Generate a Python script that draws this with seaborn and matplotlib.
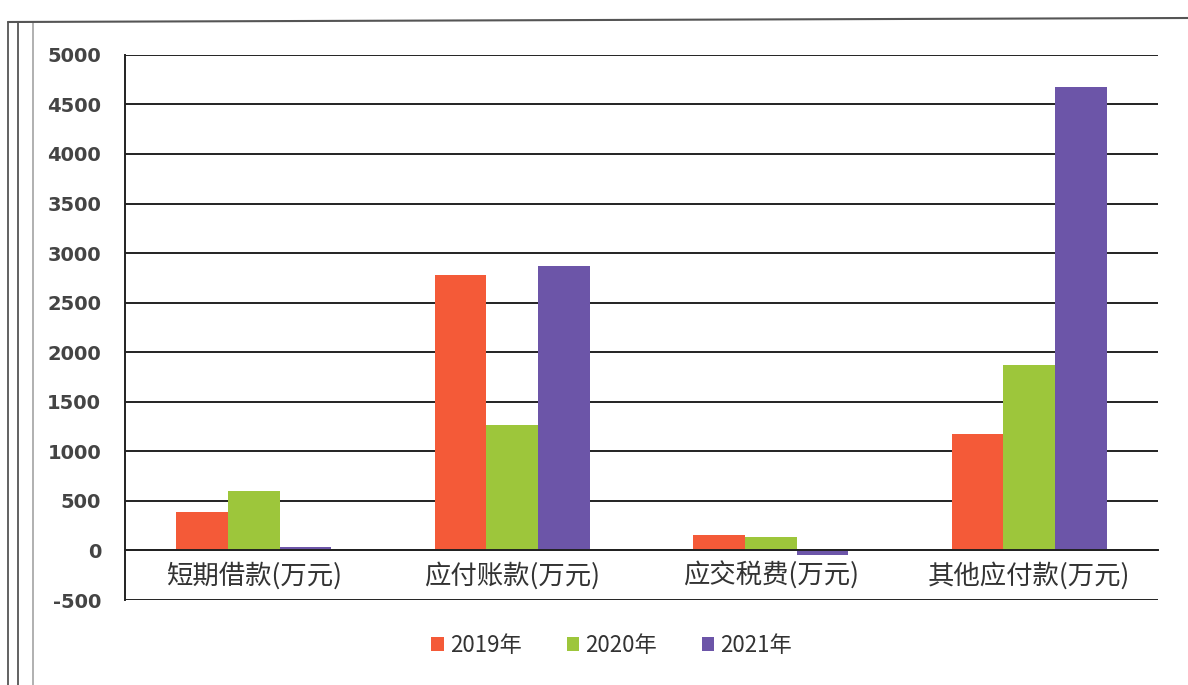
import numpy as np
import pandas as pd
import matplotlib
matplotlib.use("Agg")
import matplotlib.pyplot as plt
import seaborn as sns
from matplotlib.lines import Line2D
from matplotlib.patches import Patch

# Data
categories = ["短期借款(万元)", "应付账款(万元)", "应交税费(万元)", "其他应付款(万元)"]
years = ["2019年", "2020年", "2021年"]
v2019 = [390, 2780, 160, 1180]
v2020 = [600, 1270, 140, 1870]
v2021 = [35, 2870, -45, 4680]
colors = ["#F45A38", "#9DC63B", "#6C55A8"]
yticks = list(range(-500, 5001, 500))

df = pd.DataFrame({
    "category": categories * 3,
    "year": [years[0]] * 4 + [years[1]] * 4 + [years[2]] * 4,
    "value": v2019 + v2020 + v2021,
})

sns.set_theme(style="white")
plt.rcParams['font.family'] = ['Noto Sans CJK SC', 'DejaVu Sans']
plt.rcParams['axes.unicode_minus'] = False

fig = plt.figure(figsize=(11.88, 6.85), dpi=100)
ax = fig.add_axes([0.105, 0.124, 0.87, 0.796])

sns.barplot(data=df, x="category", y="value", hue="year", palette=colors,
            width=0.6, ax=ax, legend=False, saturation=1, linewidth=0)

ax.set_ylim(-500, 5000)
ax.set_yticks(yticks)
ax.set_yticklabels([str(t) for t in yticks], fontsize=14, color="#444444",
                   family="DejaVu Sans", weight="bold")
ax.set_xlim(-0.5, 3.5)
ax.yaxis.grid(True, color="#222222", linewidth=1.4)
ax.set_axisbelow(True)
ax.tick_params(axis="y", length=8, width=1.4, color="#222222", direction="out", pad=9)

for s in ["top", "right"]:
    ax.spines[s].set_visible(False)
ax.spines["left"].set_color("#222222")
ax.spines["left"].set_linewidth(1.4)
ax.spines["bottom"].set_position(("data", 0))
ax.spines["bottom"].set_color("#222222")
ax.spines["bottom"].set_linewidth(1.4)
ax.set_xticks([0, 1, 2, 3])
ax.set_xticklabels(categories, fontsize=19, color="#333333")
ax.set_xticks([0.5, 1.5, 2.5, 3.5], minor=True)
ax.tick_params(axis="x", which="major", length=0, pad=8)
ax.tick_params(axis="x", which="minor", length=7, width=1.4, color="#222222", direction="out")
ax.set_xlabel("")
ax.set_ylabel("")

# legend
handles = [Patch(facecolor=c, edgecolor="none") for c in colors]
fig.legend(handles, years, loc="lower center", bbox_to_anchor=(0.515, 0.012),
           ncol=3, frameon=False, fontsize=16, handlelength=0.55, handleheight=0.55,
           handletextpad=0.3, columnspacing=2.0, labelcolor="#333333")

# scanned page frame
for x, c in [(8, "#555555"), (18, "#555555"), (33, "#aaaaaa")]:
    fig.add_artist(Line2D([x / 1188, x / 1188], [0, 1 - 22 / 685], color=c, linewidth=1.3))
fig.add_artist(Line2D([8 / 1188, 1], [1 - 22 / 685, 1 - 18 / 685], color="#555555", linewidth=1.5))

fig.savefig("out.png", dpi=100)
